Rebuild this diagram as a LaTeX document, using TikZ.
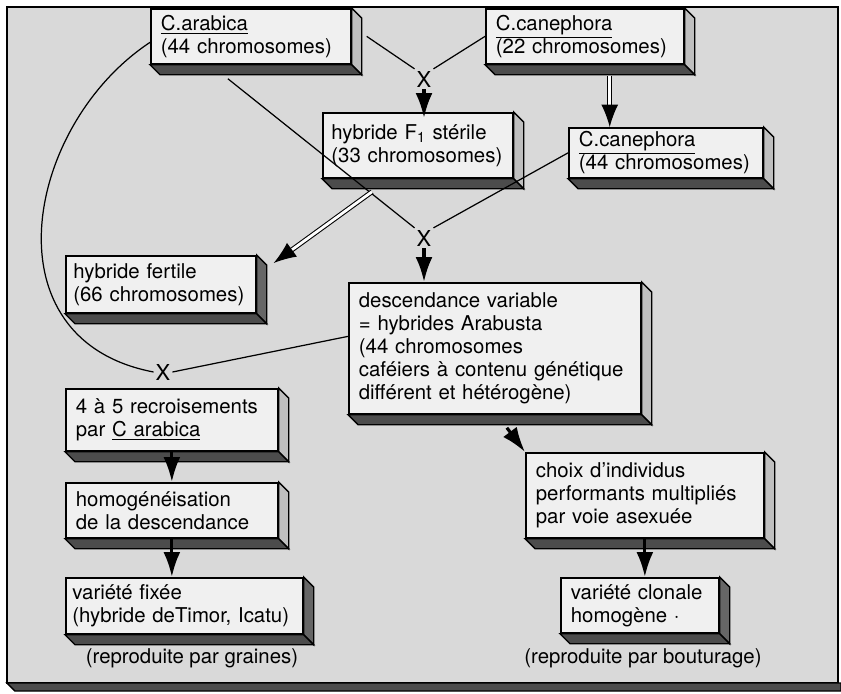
\documentclass[tikz,border=0pt]{standalone}
\usepackage{fontspec}
\setmainfont{TeX Gyre Heros}
\usetikzlibrary{arrows.meta, calc}

\newcommand{\relief}[2][black!25]{%
  \filldraw[fill=#1, line width=0.8pt] (#2.north east) -- ++(10,10) -- ($(#2.south east)+(10,10)$) -- (#2.south east) -- cycle;
  \filldraw[fill=black!70, line width=0.8pt] (#2.south west) -- ($(#2.south west)+(10,10)$) -- ($(#2.south east)+(10,10)$) -- (#2.south east) -- cycle;
}

\begin{document}
\begin{tikzpicture}[
    x=0.02cm, y=-0.02cm,
    >=Latex,
    bloc/.style={
        draw,
        line width=1pt,
        fill=black!6,
        anchor=north west,
        align=left,
        inner xsep=0.2cm,
        inner ysep=2pt,
        font=\fontsize{11.6}{13}\selectfont
    },
    croix/.style={inner sep=1pt, font=\fontsize{12.5}{13}\selectfont},
    legende/.style={font=\fontsize{11.6}{13}\selectfont},
    fleche/.style={-{Latex[length=5mm,width=3.4mm]}, line width=1.8pt},
    dfleche/.style={double, double distance=1.6pt, line width=0.6pt, -{Latex[length=4.5mm,width=3.4mm]}},
    trait/.style={line width=0.7pt}
]
  \useasboundingbox (0,0) rectangle (841,693);
  \draw[line width=1pt, fill=black!15] (7,7) rectangle (838,683);
  \filldraw[fill=black!70, line width=0.8pt] (7,683) -- (15,691) -- (841,691) -- (841,683) -- cycle;

  \node[bloc, text width=3.6cm, minimum height=1.1cm] (arab) at (150,8) {\underline{C.arabica}\\(44 chromosomes)};
  \node[bloc, text width=3.56cm, minimum height=1.1cm] (cane) at (485,8) {\underline{C.canephora}\\(22 chromosomes)};
  \node[bloc, text width=3.46cm, minimum height=1.3cm, inner xsep=0.17cm] (fone) at (322,112) {hybride F\textsubscript{1} stérile\\(33 chromosomes)};
  \node[bloc, text width=3.48cm, minimum height=1.0cm] (canb) at (568,127) {\underline{C.canephora}\\(44 chromosomes)};
  \node[bloc, text width=3.5cm, minimum height=1.14cm, inner xsep=0.15cm] (fert) at (65,255) {hybride fertile\\(66 chromosomes)};
  \node[bloc, text width=5.44cm, minimum height=2.62cm] (desc) at (348,282) {descendance variable\\= hybrides Arabusta\\(44 chromosomes\\caféiers à contenu génétique\\différent et hétérogène)};
  \node[bloc, text width=3.84cm, minimum height=1.24cm] (recr) at (65,388) {4 à 5 recroisements\\par \underline{C arabica}};
  \node[bloc, text width=3.84cm, minimum height=1.1cm] (homo) at (65,482) {homogénéisation\\de la descendance};
  \node[bloc, text width=4.48cm, minimum height=1.12cm, inner xsep=0.13cm] (fixe) at (65,577) {variété fixée\\(hybride deTimor, Icatu)};
  \node[bloc, text width=4.36cm, minimum height=1.7cm] (choix) at (525,452) {choix d'individus\\performants multipliés\\par voie asexuée};
  \node[bloc, text width=2.76cm, minimum height=1.1cm] (clon) at (560,577) {variété clonale\\homogène ·};

  \relief{arab}
  \relief{cane}
  \relief{fone}
  \relief{canb}
  \relief[black!60]{fert}
  \relief{desc}
  \relief{recr}
  \relief{homo}
  \relief[black!60]{fixe}
  \relief{choix}
  \relief[black!60]{clon}

  \node[croix] (xa) at (424,79) {X};
  \node[croix] (xb) at (424,238) {X};
  \node[croix] (xc) at (163,372) {X};

  \node[legende] (graines) at (192,658) {(reproduite par graines)};
  \node[legende] (bouture) at (643,658) {(reproduite par bouturage)};

  \coordinate (da) at ($(cane.south east)+(-75,11)$);
  \coordinate (db) at ($(fone.south west)+(50,13)$);

  \draw[trait] ($(arab.east)+(15,0)$) -- (xa.north west);
  \draw[trait] (cane.west) -- (xa.north east);
  \draw[fleche] (xa.south) -- ($(xa.south |- fone.north)+(0,6)$);
  \draw[dfleche] (da) -- (da |- canb.north);
  \draw[trait] ($(arab.south)+(-23,14)$) -- (xb.north west);
  \draw[trait] (canb.west) -- (xb.north east);
  \draw[fleche] (xb.south) -- (xb.south |- desc.north);
  \draw[dfleche] (db) -- ($(fert.north east)+(17,8)$);
  \draw[trait] ($(arab.west)+(0,6)$) .. controls (25,125) and (-15,340) .. (xc.west);
  \draw[trait] ($(desc.west)+(0,-12)$) -- (xc.east);
  \draw[fleche] ($(desc.south)+(12,13)$) -- (choix.north west);
  \draw[fleche] (recr.south) -- (homo.north);
  \draw[fleche] (homo.south) -- (homo.south |- fixe.north);
  \draw[fleche] (choix.south) -- (choix.south |- clon.north);
\end{tikzpicture}
\end{document}
